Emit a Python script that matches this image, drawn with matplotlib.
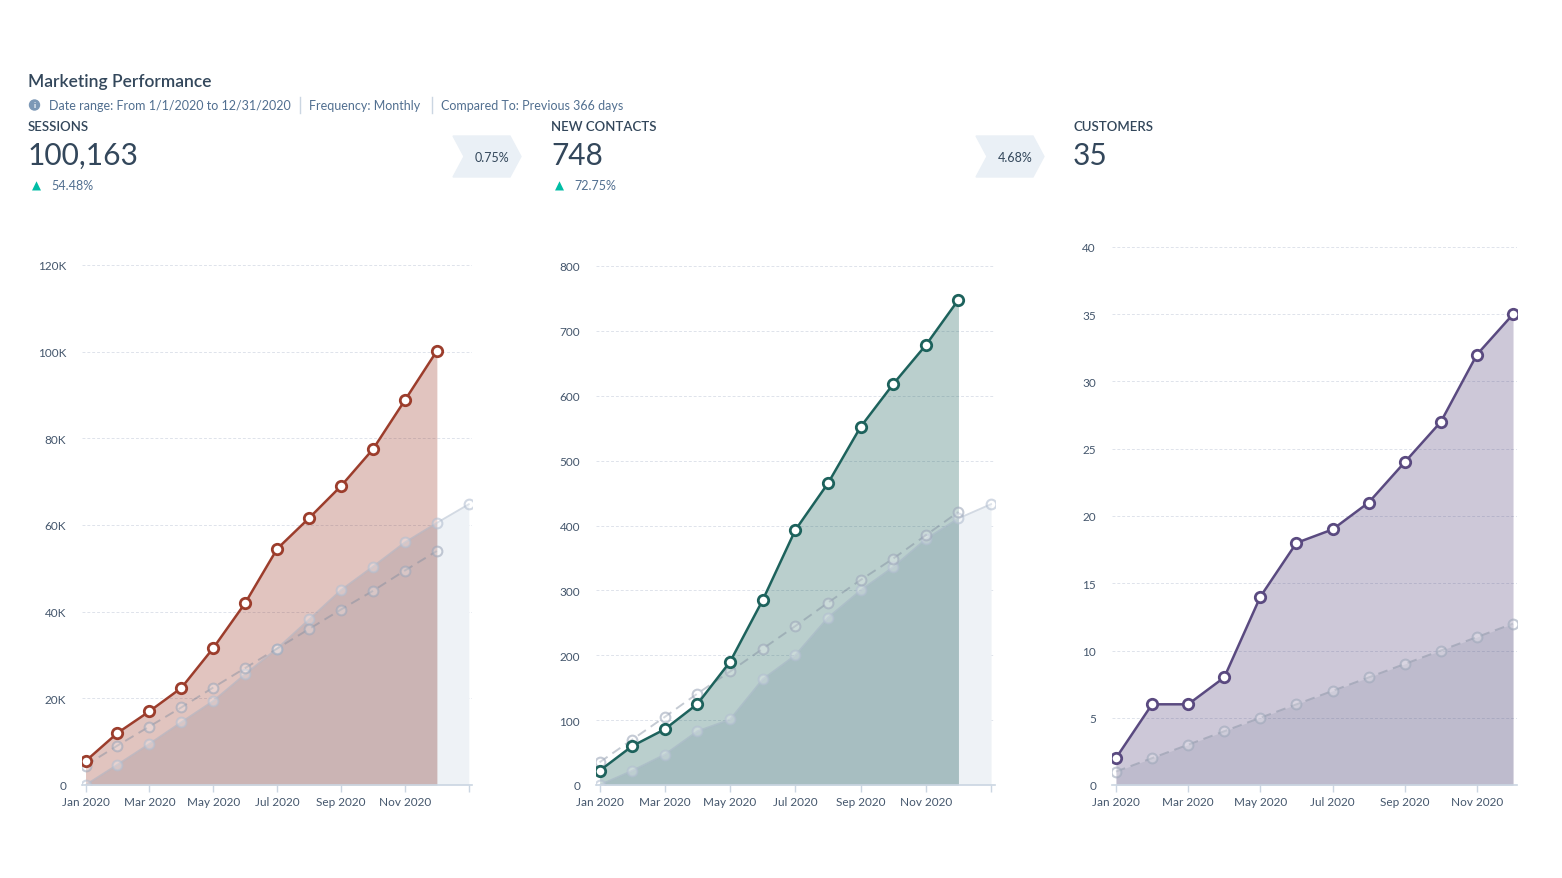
import numpy as np
import matplotlib
matplotlib.use("Agg")
import matplotlib.pyplot as plt
from matplotlib.patches import Polygon, Ellipse

plt.rcParams['font.family'] = ['Lato', 'DejaVu Sans']

W, H = 1562, 879

# months Jan 2020 .. Dec 2020 (+ Jan 2021 for the light comparison line)
tick_pos = [0, 2, 4, 6, 8, 10]
tick_labels = ['Jan 2020', 'Mar 2020', 'May 2020', 'Jul 2020', 'Sep 2020', 'Nov 2020']

# sessions (cumulative, thousands)
sessions = [5.5, 12, 17, 22.4, 31.6, 42, 54.5, 61.6, 69, 77.5, 88.8, 100.163]
sessions_prev = [4.5, 9.1, 13.5, 17.9, 22.5, 27, 31.5, 36, 40.5, 44.8, 49.5, 54]
sessions_light = [0, 4.7, 9.5, 14.5, 19.4, 25.6, 31.5, 38.2, 45, 50.4, 56, 60.5, 64.8]

# new contacts (cumulative)
contacts = [22, 60, 86, 125, 190, 285, 393, 465, 552, 618, 678, 748]
contacts_prev = [35, 70, 105, 141, 175, 210, 245, 281, 316, 349, 385, 421]
contacts_light = [0, 22, 47, 83, 101, 163, 200, 258, 300, 336, 379, 411, 433]

# customers (cumulative)
customers = [2, 6, 6, 8, 14, 18, 19, 21, 24, 27, 32, 35]
customers_prev = [1, 2, 3, 4, 5, 6, 7, 8, 9, 10, 11, 12]

dark = '#33475b'
sub = '#516f90'
gridc = '#dfe3eb'
axisc = '#cbd6e2'


def fx(px):
    return px / W


def fy(py):
    return 1 - py / H


fig = plt.figure(figsize=(W / 100, H / 100), dpi=100)
fig.patch.set_facecolor('white')


def style_axes(ax, yticks, ylabels, xmax, extra_tick):
    ax.set_ylim(yticks[0], yticks[-1])
    ax.set_xlim(-0.11, xmax)
    ax.set_yticks(yticks)
    ax.set_yticklabels(ylabels)
    pos = tick_pos + ([12] if extra_tick else [])
    ax.set_xticks(pos)
    ax.set_xticklabels(tick_labels + ([''] if extra_tick else []))
    for s in ['top', 'right', 'left']:
        ax.spines[s].set_visible(False)
    ax.spines['bottom'].set_color(axisc)
    ax.spines['bottom'].set_linewidth(1.2)
    ax.spines['bottom'].set_zorder(6)
    ax.tick_params(axis='y', length=0, pad=11.5, labelsize=8.5, labelcolor='#44566c')
    ax.tick_params(axis='x', length=5, width=1, color=axisc, pad=3,
                   labelsize=8.5, labelcolor='#44566c')
    ax.grid(axis='y', color=gridc, linestyle=(0, (3, 2)), linewidth=0.7)
    ax.set_axisbelow(True)


def draw_panel(ax, main, prev, light, color):
    x = np.arange(len(main))
    if light is not None:
        xl = np.arange(len(light))
        ax.fill_between(xl, light, color='#eef2f6', lw=0, zorder=1)
    ax.fill_between(x, main, color=color, alpha=0.3, lw=0, zorder=2)
    if light is not None:
        ax.fill_between(x, light[:len(main)], color='#5a6a85', alpha=0.08, lw=0, zorder=3)
        ax.plot(xl, light, color=(0.62, 0.68, 0.76, 0.45), lw=1.3, zorder=4,
                marker='o', ms=7, mfc=(1, 1, 1, 0.25), mec=(0.7, 0.75, 0.82, 0.6), mew=1.5)
    else:
        ax.fill_between(x, prev, color='#5a6a85', alpha=0.13, lw=0, zorder=3)
    ax.plot(x, prev, color=(0.5, 0.55, 0.62, 0.45), lw=1.4, ls=(0, (5, 3)), zorder=4,
            marker='o', ms=7, mfc=(1, 1, 1, 0.25), mec=(0.62, 0.66, 0.73, 0.6), mew=1.5)
    ax.plot(x, main, color=color, lw=1.8, zorder=5,
            marker='o', ms=7.5, mfc='white', mec=color, mew=2)


# panel 1: sessions
ax1 = fig.add_axes([fx(82), fy(786), fx(472) - fx(82), (786 - 266) / H])
draw_panel(ax1, sessions, sessions_prev, sessions_light, '#9c3d2c')
style_axes(ax1, [0, 20, 40, 60, 80, 100, 120],
           ['0', '20K', '40K', '60K', '80K', '100K', '120K'], 12.1, True)

# panel 2: new contacts
ax2 = fig.add_axes([fx(596), fy(786), fx(995) - fx(596), (786 - 267) / H])
draw_panel(ax2, contacts, contacts_prev, contacts_light, '#1d625c')
style_axes(ax2, list(range(0, 801, 100)),
           [str(v) for v in range(0, 801, 100)], 12.12, True)

# panel 3: customers
ax3 = fig.add_axes([fx(1112), fy(786), fx(1517) - fx(1112), (786 - 248) / H])
draw_panel(ax3, customers, customers_prev, None, '#5a4a80')
style_axes(ax3, list(range(0, 41, 5)),
           [str(v) for v in range(0, 41, 5)], 11.11, False)

# header
fig.text(fx(28), fy(82), 'Marketing Performance', fontsize=12.5, weight='semibold',
         color=dark, va='center')
fig.patches.append(Ellipse((fx(34.5), fy(106)), 10 / W, 10 / H, color='#7c98b6',
                           transform=fig.transFigure, figure=fig))
fig.text(fx(34.5), fy(106), 'i', fontsize=6, weight='bold', color='white',
         ha='center', va='center')
fig.text(fx(49), fy(106), 'Date range: From 1/1/2020 to 12/31/2020', fontsize=9,
         color=sub, va='center')
fig.text(fx(309), fy(106), 'Frequency: Monthly', fontsize=9, color=sub, va='center')
fig.text(fx(441), fy(106), 'Compared To: Previous 366 days', fontsize=9,
         color=sub, va='center')
for px in [300, 432]:
    fig.add_artist(plt.Line2D([fx(px), fx(px)], [fy(98), fy(114)], color='#cbd6e2',
                              lw=1, transform=fig.transFigure))

kpis = [
    (28, 'SESSIONS', '100,163', '54.48%'),
    (551, 'NEW CONTACTS', '748', '72.75%'),
    (1073, 'CUSTOMERS', '35', None),
]
for x0, name, val, chg in kpis:
    fig.text(fx(x0), fy(127), name, fontsize=9.5, weight='semibold', color=dark, va='center')
    fig.text(fx(x0), fy(156), val, fontsize=21.5, weight='normal', color=dark, va='center')
    if chg:
        fig.text(fx(x0 + 8), fy(186), '\u25b2', fontsize=8.5, color='#00bda5',
                 ha='center', va='center', family=['DejaVu Sans'])
        fig.text(fx(x0 + 23), fy(186), chg, fontsize=9, color=sub, va='center')

# conversion chevrons
for left, rate in [(453, '0.75%'), (976, '4.68%')]:
    pts = [(left, 137), (left + 57, 137), (left + 68, 157.5), (left + 57, 178),
           (left, 178), (left + 11, 157.5)]
    fig.patches.append(Polygon([(fx(a), fy(b)) for a, b in pts], closed=True,
                               color='#eaf0f6', transform=fig.transFigure, figure=fig))
    fig.text(fx(left + 39), fy(157.5), rate, fontsize=9, color=dark,
             ha='center', va='center')

fig.savefig('out.png', dpi=100, facecolor='white')
